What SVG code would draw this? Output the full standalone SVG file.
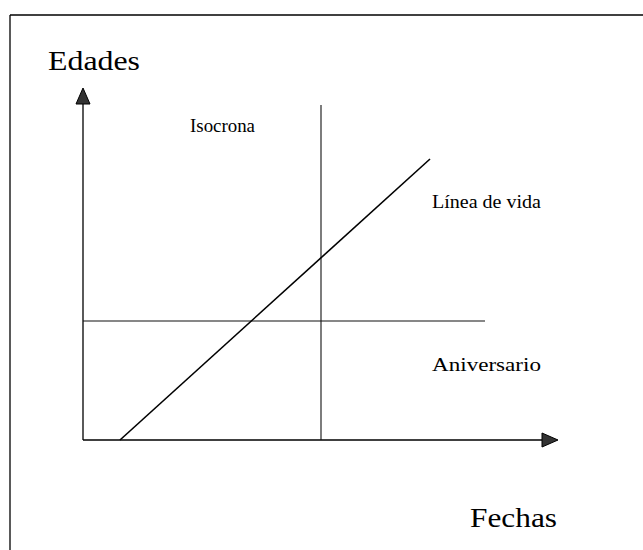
<svg xmlns="http://www.w3.org/2000/svg" width="643" height="550" viewBox="0 0 643 550">
<style>
.ln{stroke:#000;stroke-width:1.3;fill:none}
.thin{stroke:#111;stroke-width:1.1;fill:none}
.t{font-family:"Liberation Serif","Times New Roman",serif;fill:#000}
.big{font-size:28px}
.sm{font-size:19px}
.ah{fill:#333;stroke:#000;stroke-width:1}
</style>
<rect width="643" height="550" fill="#fff"/>
<g id="frame">
<line class="ln" x1="10" y1="15" x2="643" y2="15"/>
<line class="ln" x1="10" y1="15" x2="10" y2="550"/>
</g>
<g id="connectors">
<line class="ln" x1="83" y1="440" x2="83" y2="102"/>
<polygon class="ah" points="83,88 76,104 90,104"/>
<line class="ln" x1="83" y1="440" x2="543" y2="440"/>
<polygon class="ah" points="558,440 542,433 542,447"/>
<line class="thin" x1="83" y1="321" x2="485" y2="321"/>
<line class="thin" x1="321" y1="105" x2="321" y2="440"/>
<line class="ln" x1="120" y1="440" x2="430" y2="159" style="stroke-width:1.6"/>
</g>
<g id="edades"><text class="t big" x="48" y="70" textLength="92" lengthAdjust="spacingAndGlyphs">Edades</text></g>
<g id="fechas"><text class="t big" x="470" y="527" textLength="87" lengthAdjust="spacingAndGlyphs">Fechas</text></g>
<g id="isocrona"><text class="t sm" x="190" y="132" textLength="65" lengthAdjust="spacingAndGlyphs">Isocrona</text></g>
<g id="linea"><text class="t sm" x="432" y="208" textLength="109" lengthAdjust="spacingAndGlyphs">Línea de vida</text></g>
<g id="aniversario"><text class="t sm" x="432" y="371" textLength="109" lengthAdjust="spacingAndGlyphs">Aniversario</text></g>
</svg>
